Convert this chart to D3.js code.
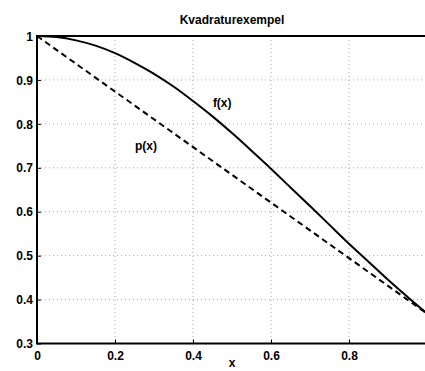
<!DOCTYPE html>
<html><head><meta charset="utf-8">
<script src="https://cdn.jsdelivr.net/npm/d3@7/dist/d3.min.js"></script>
<style>
body{margin:0;background:#fff;}
svg{display:block;font-family:"Liberation Sans",Arial,sans-serif;font-weight:bold;}
</style></head><body>
<script>
const xTicks = [0, 0.2, 0.4, 0.6, 0.8];
const yTicks = [0.3, 0.4, 0.5, 0.6, 0.7, 0.8, 0.9, 1];
const fX = [0,0.05,0.1,0.15,0.2,0.25,0.3,0.35,0.4,0.45,0.5,0.55,0.6,0.65,0.7,0.75,0.8,0.85,0.9,0.95,1.0];
const fY = [1,0.9975,0.990,0.978,0.961,0.939,0.914,0.885,0.852,0.817,0.779,0.739,0.698,0.655,0.613,0.570,0.527,0.486,0.445,0.406,0.368];
const pX = [0, 1];
const pY = [1, 0.368];
const labels = [{t:"f(x)", x:0.451, y:0.838},{t:"p(x)", x:0.251, y:0.741}];

const W=425,H=371;
const L=37,R=427,T=36,B=343.5;
const svg=d3.select("body").append("svg").attr("width",W).attr("height",H);
const x=d3.scaleLinear().domain([0,1]).range([L,R]);
const y=d3.scaleLinear().domain([0.3,1]).range([B,T]);

// grid
svg.append("g").selectAll("line").data(xTicks.slice(1)).join("line")
 .attr("x1",d=>x(d)).attr("x2",d=>x(d)).attr("y1",T).attr("y2",B)
 .attr("stroke","#aaa").attr("stroke-width",1).attr("stroke-dasharray","1,3");
svg.append("g").selectAll("line").data(yTicks.slice(1,-1)).join("line")
 .attr("x1",L).attr("x2",R).attr("y1",d=>y(d)).attr("y2",d=>y(d))
 .attr("stroke","#aaa").attr("stroke-width",1).attr("stroke-dasharray","1,3");

// axes
const xa=svg.append("g").attr("transform",`translate(0,${B})`)
 .call(d3.axisBottom(x).tickValues(xTicks).tickFormat(d3.format("~g")).tickSizeInner(-4).tickSizeOuter(0).tickPadding(7));
const ya=svg.append("g").attr("transform",`translate(${L},0)`)
 .call(d3.axisLeft(y).tickValues(yTicks).tickFormat(d3.format("~g")).tickSizeInner(-4).tickSizeOuter(0).tickPadding(4));
[xa,ya].forEach(a=>{a.select(".domain").remove();a.selectAll("text").attr("font-size",12).attr("font-weight","bold").attr("fill","#000");a.selectAll("line").attr("stroke","#000");});
xa.selectAll("text").attr("dy","0.8em");
ya.selectAll("text").attr("dy","0.35em");
// frame
svg.append("rect").attr("x",L).attr("y",T).attr("width",R-L).attr("height",B-T)
 .attr("fill","none").attr("stroke","#000").attr("stroke-width",2);

const line=d3.line().x(d=>x(d[0])).y(d=>y(d[1]));
svg.append("path").datum(fX.map((v,i)=>[v,fY[i]])).attr("d",line.curve(d3.curveMonotoneX))
 .attr("fill","none").attr("stroke","#000").attr("stroke-width",2);
svg.append("path").datum(pX.map((v,i)=>[v,pY[i]])).attr("d",d3.line().x(d=>x(d[0])).y(d=>y(d[1])))
 .attr("fill","none").attr("stroke","#000").attr("stroke-width",2).attr("stroke-dasharray","6,4");

svg.selectAll(".lab").data(labels).join("text").attr("class","lab")
 .attr("x",d=>x(d.x)).attr("y",d=>y(d.y)).attr("font-size",12).attr("font-weight","bold").text(d=>d.t);

svg.append("text").attr("x",(L+R)/2).attr("y",24).attr("text-anchor","middle").attr("font-size",12).attr("font-weight","bold").text("Kvadraturexempel");
svg.append("text").attr("x",(L+R)/2).attr("y",367).attr("text-anchor","middle").attr("font-size",12).attr("font-weight","bold").text("x");
</script>
</body></html>
